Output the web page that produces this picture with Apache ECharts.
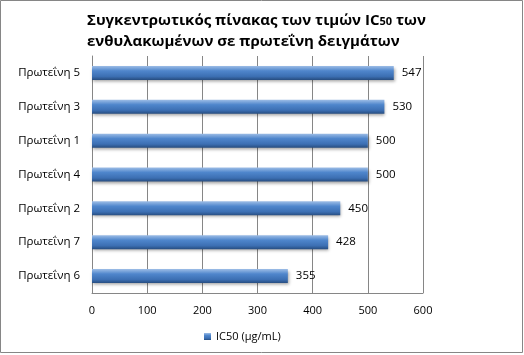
<!DOCTYPE html>
<html lang="el">
<head>
<meta charset="UTF-8">
<title>IC50</title>
<style>
  html, body { margin: 0; padding: 0; background: #fff; }
  #chart { width: 524px; height: 355px; }
</style>
</head>
<body>
<div id="chart"></div>
<script src="https://cdn.jsdelivr.net/npm/echarts@6/dist/echarts.min.js"></script>
<script>
  // data (bottom to top as drawn)
  var proteins = ['Πρωτεΐνη 6', 'Πρωτεΐνη 7', 'Πρωτεΐνη 2', 'Πρωτεΐνη 4', 'Πρωτεΐνη 1', 'Πρωτεΐνη 3', 'Πρωτεΐνη 5'];
  var ic50 = [355, 428, 450, 500, 500, 530, 547];
  var xTicks = [0, 100, 200, 300, 400, 500, 600];
  var seriesName = 'IC50 (μg/mL)';

  var font = 'Open Sans, DejaVu Sans, sans-serif';
  var chart = echarts.init(document.getElementById('chart'));

  var barColor = new echarts.graphic.LinearGradient(0, 0, 0, 1, [
    { offset: 0, color: '#9dbde6' },
    { offset: 0.35, color: '#4f86cc' },
    { offset: 0.75, color: '#3c6fb3' },
    { offset: 1, color: '#274d80' }
  ]);

  chart.setOption({
    animation: false,
    backgroundColor: '#fff',
    graphic: [{
      type: 'rect',
      shape: { x: 0.5, y: 0.5, width: 522, height: 352 },
      style: { fill: 'none', stroke: '#868686', lineWidth: 1 },
      silent: true
    }],
    title: {
      text: '{t|Συγκεντρωτικός πίνακας των τιμών IC}{s|50}{t| των}\n{t|ενθυλακωμένων σε πρωτεΐνη δειγμάτων}',
      left: 82,
      top: 5,
      textStyle: {
        rich: {
          t: { fontFamily: font, fontWeight: 'bold', fontSize: 15, color: '#000', lineHeight: 21 },
          s: { fontFamily: font, fontWeight: 'bold', fontSize: 11, color: '#000', lineHeight: 19, padding: [2, 0, 0, 0] }
        }
      }
    },
    legend: {
      data: [seriesName],
      left: 199,
      top: 326,
      itemWidth: 7,
      itemHeight: 7,
      itemGap: 4,
      icon: 'rect',
      textStyle: { fontFamily: font, fontSize: 11, color: '#000' }
    },
    grid: { left: 92, right: 101, top: 56, bottom: 62, containLabel: false },
    xAxis: {
      type: 'value',
      min: 0,
      max: 600,
      interval: 100,
      axisLine: { show: true, lineStyle: { color: '#868686' } },
      axisTick: { show: false },
      splitLine: { show: true, lineStyle: { color: '#868686', width: 1 } },
      axisLabel: {
        margin: 12,
        fontFamily: font,
        fontSize: 11,
        color: '#000',
        formatter: function (v) { return xTicks.indexOf(v) >= 0 ? String(v) : ''; }
      }
    },
    yAxis: {
      type: 'category',
      data: proteins,
      axisLine: { show: true, lineStyle: { color: '#868686' } },
      axisTick: { show: false },
      axisLabel: { margin: 12, fontFamily: font, fontSize: 11.5, color: '#000' }
    },
    series: [{
      name: seriesName,
      type: 'bar',
      data: ic50,
      barWidth: 14,
      itemStyle: {
        color: barColor,
        shadowColor: 'rgba(0,0,0,0.35)',
        shadowBlur: 3,
        shadowOffsetX: 1,
        shadowOffsetY: 2
      },
      label: {
        show: true,
        position: 'right',
        distance: 8,
        fontFamily: font,
        fontSize: 11.5,
        color: '#000'
      }
    }]
  });
</script>
</body>
</html>
